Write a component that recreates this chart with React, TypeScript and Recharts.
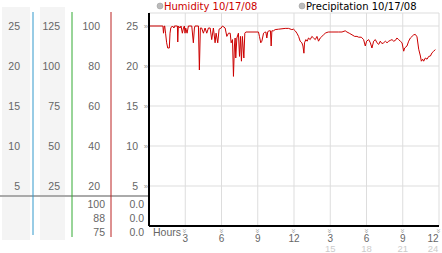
import React from "react";
import { LineChart, Line, XAxis, YAxis, CartesianGrid } from "recharts";

const hours = [0, 1.15, 1.2, 1.26, 1.3, 1.37, 1.46, 1.55, 1.68, 1.74, 1.8, 1.93, 2.07, 2.1, 2.35, 2.38, 2.43, 2.57, 2.65, 2.76, 2.85, 2.93, 2.98, 3.04, 3.15, 3.26, 3.54, 3.67, 3.76, 3.81, 4.09, 4.17, 4.25, 4.36, 4.5, 4.64, 4.78, 4.92, 5.06, 5.19, 5.33, 5.47, 5.55, 5.69, 5.8, 5.97, 6.08, 6.3, 6.44, 6.58, 6.72, 6.8, 6.91, 6.99, 7.07, 7.13, 7.18, 7.27, 7.4, 7.49, 7.57, 7.65, 7.73, 7.85, 7.93, 8.01, 9.06, 9.14, 9.25, 9.34, 9.48, 9.56, 9.67, 9.75, 9.83, 9.94, 10.05, 10.11, 10.17, 10.3, 10.44, 10.72, 11.27, 11.55, 11.82, 11.96, 12.1, 12.24, 12.38, 12.51, 12.65, 12.74, 12.82, 12.87, 12.98, 13.09, 13.2, 13.34, 13.48, 13.62, 13.76, 13.9, 14.03, 14.17, 14.31, 14.45, 14.59, 14.73, 14.86, 15.14, 15.69, 15.97, 16.24, 16.38, 16.57, 16.8, 17.02, 17.21, 17.35, 17.57, 17.76, 17.9, 18.01, 18.18, 18.32, 18.45, 18.59, 18.73, 18.87, 19.01, 19.14, 19.28, 19.42, 19.56, 19.7, 19.84, 19.97, 20.11, 20.25, 20.39, 20.52, 20.66, 20.8, 20.94, 21.08, 21.16, 21.35, 21.49, 21.63, 21.77, 21.91, 22.04, 22.18, 22.32, 22.46, 22.54, 22.65, 22.73, 22.87, 23.01, 23.15, 23.29, 23.42, 23.56, 23.7];

const humidity = [25, 25, 24.1, 25, 25, 24.1, 22.9, 22.25, 22.25, 24.1, 24.75, 25, 24.75, 25, 25, 23.0, 25, 24.75, 25, 24.1, 24.75, 25, 24.1, 24.75, 24.1, 25, 25, 22.9, 24.75, 25, 25, 19.5, 24.75, 24.75, 24.1, 24.75, 24.1, 24.75, 24.75, 23.3, 24.75, 22.9, 24.1, 22.9, 24.6, 24.75, 25, 24.75, 23.7, 24.1, 24.1, 22.9, 23.3, 18.7, 22.5, 23.5, 21.0, 23.5, 24.1, 21.2, 23.7, 20.6, 23.7, 21.0, 24.1, 24.25, 24.25, 23.7, 22.9, 23.1, 24.1, 24.2, 24.25, 23.5, 24.3, 24.4, 24.4, 22.5, 24.4, 24.4, 24.55, 24.6, 24.7, 24.7, 24.55, 24.6, 24.4, 24.1, 23.7, 23.1, 22.9, 22.5, 21.6, 22.9, 23.3, 23.1, 23.5, 23.3, 23.7, 23.5, 23.3, 23.7, 23.1, 23.5, 23.7, 23.9, 24.1, 24.2, 24.25, 24.25, 24.25, 24.25, 24.4, 24.25, 24.1, 23.9, 23.7, 23.7, 23.6, 23.6, 23.3, 22.5, 23.1, 23.3, 22.9, 22.25, 23.1, 23.3, 22.9, 22.7, 23.1, 22.8, 22.9, 23.1, 22.9, 23.1, 23.2, 23.3, 23.1, 23.2, 23.5, 23.3, 23.1, 22.9, 21.85, 22.25, 22.5, 23.1, 23.5, 23.7, 23.9, 23.95, 23.65, 22.1, 21.25, 20.6, 20.85, 20.6, 21.0, 20.85, 21.2, 21.25, 21.65, 21.85, 22.05];

const xTicks = [3, 6, 9, 12, 15, 18, 21, 24];
const xTickTop = ["3", "6", "9", "12", "3", "6", "9", "12"];
const xTickBottom = ["", "", "", "", "15", "18", "21", "24"];

const mainTicks = [5, 10, 15, 20, 25];
const col3Ticks = [20, 40, 60, 80, 100];
const col2Ticks = [25, 50, 75, 100, 125];
const col1Ticks = [5, 10, 15, 20, 25];

const humidityStats = ["100", "88", "75"];
const precipStats = ["0.0", "0.0", "0.0"];

const seriesNames = ["Humidity 10/17/08", "Precipitation 10/17/08"];
const seriesColors = ["#cc0000", "#000000"];

const data = hours.map((h, i) => ({ h, humidity: humidity[i] }));

const FONT = "'Liberation Sans', Arial, sans-serif";
const LEGEND_FONT = "'DejaVu Sans', Verdana, sans-serif";
const LABEL = "#666";
const FS = 10.5;

const MainYTick = (props: any) => {
  const { x, y, payload } = props;
  return (
    <g>
      <text x={x - 11} y={y + 4} textAnchor="end" fontSize={FS} fill={LABEL} fontFamily={FONT}>
        {payload.value}
      </text>
      <text x={x - 3} y={y + 3} textAnchor="middle" fontSize={8} fill="#999" fontFamily={FONT}>
        »
      </text>
    </g>
  );
};

const ColTick = (props: any) => {
  const { x, y, payload, dx } = props;
  return (
    <text x={x + (dx || -11)} y={y + 4} textAnchor="end" fontSize={FS} fill={LABEL} fontFamily={FONT}>
      {payload.value}
    </text>
  );
};

const XTick = (props: any) => {
  const { x, y, index } = props;
  const last = index === xTicks.length - 1;
  const tx = last ? x - 6 : x;
  return (
    <g>
      <text x={x} y={y + 8} textAnchor="middle" fontSize={8} fill="#999" fontFamily={FONT} transform={`rotate(90 ${x} ${y + 5})`}>
        »
      </text>
      <text x={tx} y={y + 16} textAnchor="middle" fontSize={10} fill={LABEL} fontFamily={FONT}>
        {xTickTop[index]}
      </text>
      <text x={tx} y={y + 26} textAnchor="middle" fontSize={9.5} fill="#ccc" fontFamily={FONT}>
        {xTickBottom[index]}
      </text>
    </g>
  );
};

const Background = () => (
  <svg width={442} height={253} style={{ position: "absolute", left: 0, top: 0 }}>
    <rect x={2} y={7} width={28} height={233} fill="#f4f4f4" />
    <rect x={40} y={7} width={25} height={233} fill="#f4f4f4" />
    <line x1={0} y1={196} x2={149} y2={196} stroke="#aaa" strokeWidth={2} />
    <line x1={33} y1={12} x2={33} y2={235} stroke="#3399cc" strokeWidth={1} />
    <line x1={72} y1={12} x2={72} y2={237} stroke="#33aa33" strokeWidth={1} />
    <line x1={111} y1={12} x2={111} y2={237} stroke="#bb2222" strokeWidth={1} />
    {humidityStats.map((s, i) => (
      <text key={"h" + i} x={105} y={208 + i * 14} textAnchor="end" fontSize={FS} fill={LABEL} fontFamily={FONT}>
        {s}
      </text>
    ))}
    {precipStats.map((s, i) => (
      <text key={"p" + i} x={144} y={208 + i * 14} textAnchor="end" fontSize={FS} fill={LABEL} fontFamily={FONT}>
        {s}
      </text>
    ))}
    <text x={153} y={236} fontSize={FS} fill={LABEL} fontFamily={FONT}>
      Hours
    </text>
    {seriesNames.map((n, i) => (
      <g key={n}>
        <circle cx={160 + i * 142} cy={6} r={3} fill="#bbb" stroke="#999" strokeWidth={0.5} />
        <text x={164 + i * 142} y={10} fontSize={10} fill={seriesColors[i]} fontFamily={LEGEND_FONT}>
          {n}
        </text>
      </g>
    ))}
  </svg>
);

export default function App() {
  return (
    <div style={{ position: "absolute", left: 0, top: 0, width: 442, height: 253, background: "#fff" }}>
      <Background />
      <div style={{ position: "absolute", left: 0, top: 0 }}>
        <LineChart width={442} height={253} data={data} margin={{ top: 13, right: 3, bottom: 0, left: 0 }}>
          <CartesianGrid stroke="#ddd" vertical={true} horizontal={true} />
          <XAxis
            dataKey="h"
            type="number"
            domain={[0, 24]}
            ticks={xTicks}
            height={27}
            tickSize={0}
            tickMargin={0}
            tickLine={false}
            axisLine={{ stroke: "#000", strokeWidth: 2 }}
            tick={<XTick />}
            interval={0}
            allowDataOverflow
          />
          <YAxis
            type="number"
            domain={[0, 26.625]}
            ticks={mainTicks}
            width={38}
            tickSize={0}
            tickMargin={0}
            tickLine={false}
            axisLine={{ stroke: "#000", strokeWidth: 2 }}
            tick={<MainYTick />}
            interval={0}
            allowDataOverflow
          />
          <YAxis
            yAxisId="a3"
            type="number"
            domain={[0, 106.5]}
            ticks={col3Ticks}
            width={39}
            tickSize={0}
            tickMargin={0}
            tickLine={false}
            axisLine={false}
            tick={<ColTick dx={-11} />}
            interval={0}
            allowDataOverflow
          />
          <YAxis
            yAxisId="b2"
            type="number"
            domain={[0, 133.125]}
            ticks={col2Ticks}
            width={39}
            tickSize={0}
            tickMargin={0}
            tickLine={false}
            axisLine={false}
            tick={<ColTick dx={-12} />}
            interval={0}
            allowDataOverflow
          />
          <YAxis
            yAxisId="c1"
            type="number"
            domain={[0, 26.625]}
            ticks={col1Ticks}
            width={33}
            tickSize={0}
            tickMargin={0}
            tickLine={false}
            axisLine={false}
            tick={<ColTick dx={-13} />}
            interval={0}
            allowDataOverflow
          />
          <Line
            type="linear"
            dataKey="humidity"
            stroke="#cc0000"
            strokeWidth={1}
            dot={false}
            isAnimationActive={false}
          />
        </LineChart>
      </div>
    </div>
  );
}
